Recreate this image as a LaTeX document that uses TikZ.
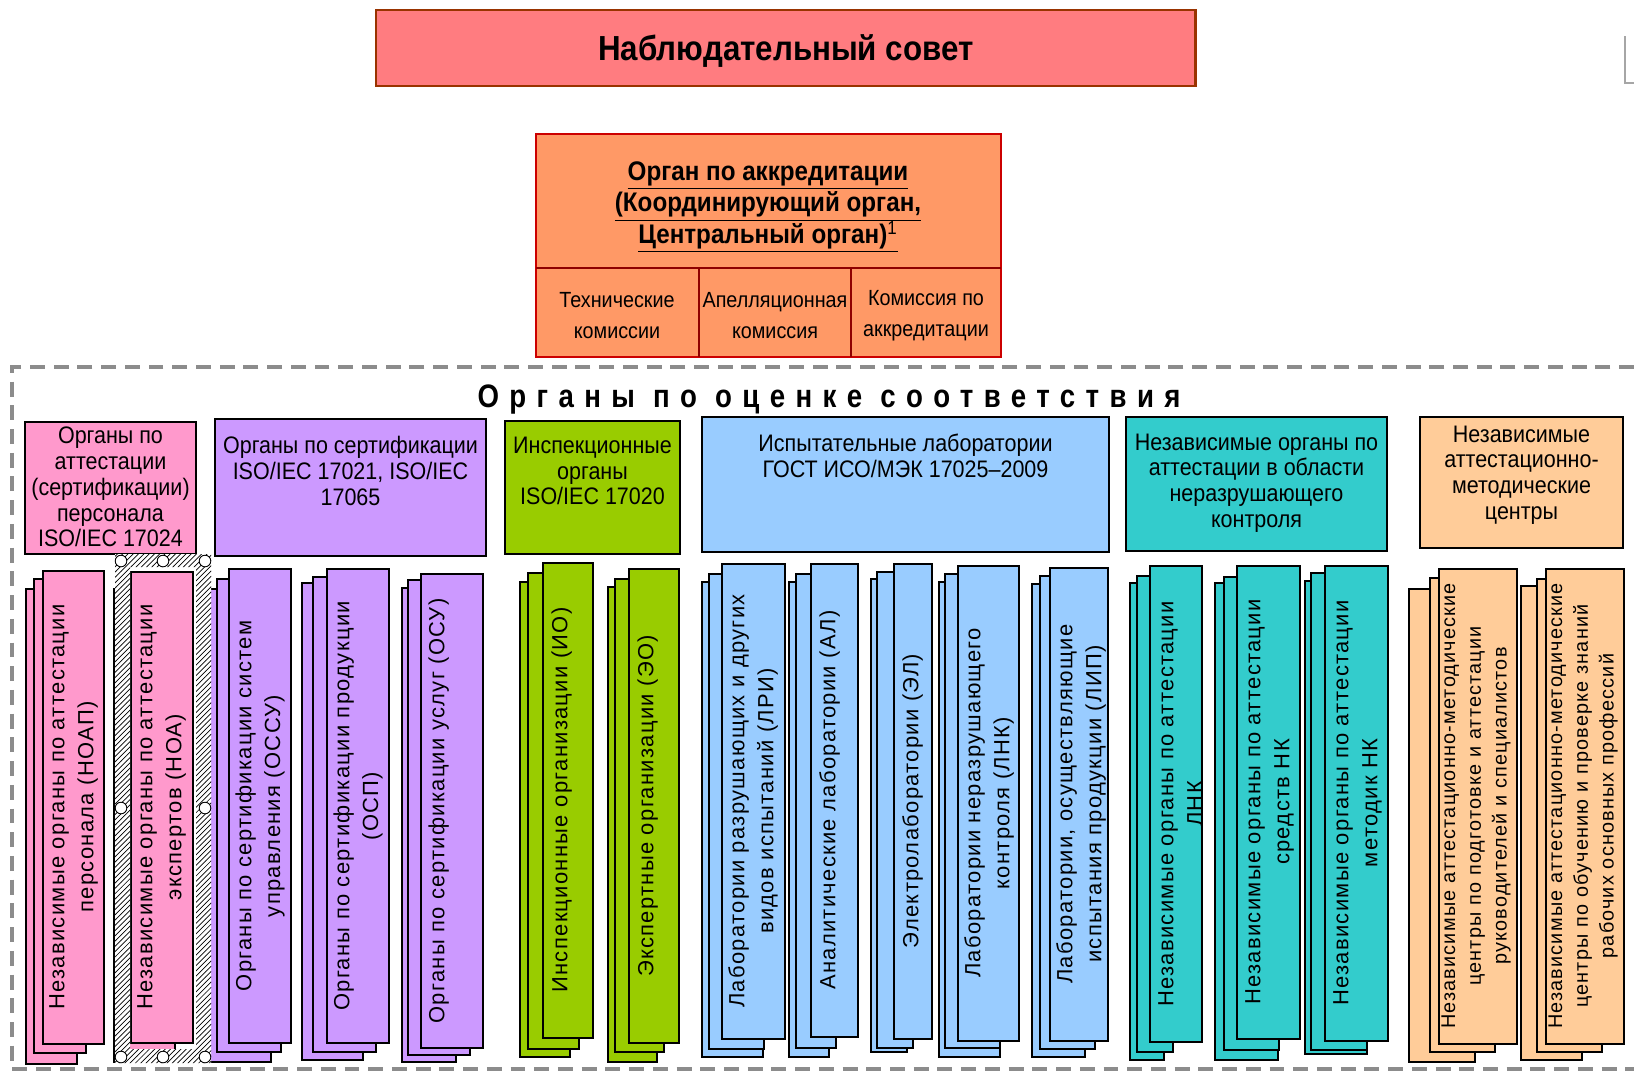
\documentclass[tikz,border=0pt]{standalone}
\usepackage{fontspec}
\setmainfont{Liberation Sans}
\newfontfamily\narrowfont{Liberation Sans}[FakeStretch=0.9]
\newfontfamily\spacedfont{Liberation Sans}[LetterSpace=6]
\newfontfamily\widefont{Liberation Sans}[FakeStretch=0.85,LetterSpace=32]
\usetikzlibrary{patterns}

\definecolor{csovet}{HTML}{FF7C80}
\definecolor{csovetline}{HTML}{993300}
\definecolor{corgan}{HTML}{FF9966}
\definecolor{corganline}{HTML}{CC0000}
\definecolor{cpink}{HTML}{FF99CC}
\definecolor{cpurple}{HTML}{CC99FF}
\definecolor{cgreen}{HTML}{99CC00}
\definecolor{cblue}{HTML}{99CCFF}
\definecolor{cteal}{HTML}{33CCCC}
\definecolor{cpeach}{HTML}{FFCC99}
\definecolor{cframe}{HTML}{8C8C8C}

\tikzset{
  hdrbox/.style={draw=black, line width=1pt},
  stackbox/.style={draw=black, line width=0.85pt},
  hdrtext/.style={font=\narrowfont\fontsize{13.6}{14.7}\selectfont, align=center, inner sep=0pt},
  comtext/.style={font=\narrowfont\fontsize{12.5}{17.6}\selectfont, align=center, inner sep=0pt},
  rottext/.style={font=\spacedfont\fontsize{12.5}{16.4}\selectfont, align=center, inner sep=0pt, rotate=90, anchor=north},
  rotsmall/.style={rottext, font=\spacedfont\fontsize{11.3}{14.7}\selectfont},
}

\begin{document}
\begin{tikzpicture}[x=0.02cm, y=-0.02cm]
    \useasboundingbox (0,0) rectangle (1634,1072);

    % top
    \draw[fill=csovet, draw=csovetline, line width=1.7pt] (376,10) rectangle (1195,86);
    \node[font=\narrowfont\bfseries\fontsize{19.8}{23}\selectfont, anchor=base] (sovet) at (786,60) {Наблюдательный совет};
    \draw[gray!70, line width=0.8pt] (1625,36) -- (1625,83) -- (1634,83);

    % accreditation body
    \draw[fill=corgan, draw=corganline, line width=1.6pt] (536,134) rectangle (1001,357);
    \draw[corganline!70!black, line width=0.6pt] (536,268) -- (1001,268) (699,268) -- (699,357) (851,268) -- (851,357);
    \node[font=\narrowfont\bfseries\fontsize{15.3}{18.1}\selectfont, align=center, inner sep=0pt] (organ) at (768,207)
        {\underline{Орган по аккредитации}\\\underline{(Координирующий орган,}\\\underline{Центральный орган)\textsuperscript{\mdseries 1}}};
    \node[comtext] (tech) at (617,316) {Технические\\комиссии};
    \node[comtext] (appeal) at (775,316) {Апелляционная\\комиссия};
    \node[comtext] (accr) at (926,316) {Комиссия по\\аккредитации};

    % dashed frame
    \draw[cframe, line width=2.2pt, dash pattern=on 8.5pt off 5pt] (1634,367) -- (12,367) -- (12,1069) -- (1634,1069);
    \node[font=\widefont\bfseries\fontsize{18.5}{21}\selectfont, anchor=base] (ocenka) at (829,407) {Органы по оценке соответствия};

    % headers
    \draw[hdrbox, fill=cpink] (25,422) rectangle (196,554);
    \node[hdrtext] (hpers) at (110.5,487) {Органы по\\аттестации\\(сертификации)\\персонала\\ISO/IEC 17024};
    \draw[hdrbox, fill=cpurple] (215,419) rectangle (486,556);
    \node[hdrtext] (hcert) at (350.5,471) {Органы по сертификации\\ISO/IEC 17021, ISO/IEC\\17065};
    \draw[hdrbox, fill=cgreen] (505,421) rectangle (680,554);
    \node[hdrtext] (hinsp) at (592.5,471) {Инспекционные\\органы\\ISO/IEC 17020};
    \draw[hdrbox, fill=cblue] (702,417) rectangle (1109,552);
    \node[hdrtext] (hlab) at (905.5,456) {Испытательные лаборатории\\ГОСТ ИСО/МЭК 17025–2009};
    \draw[hdrbox, fill=cteal] (1126,417) rectangle (1387,551);
    \node[hdrtext] (hnk) at (1256.5,483) {Независимые органы по\\аттестации в области\\неразрушающего\\контроля};
    \draw[hdrbox, fill=cpeach] (1420,417) rectangle (1623,548);
    \node[hdrtext] (hamc) at (1521.5,475) {Независимые\\аттестационно-\\методические\\центры};

    % stacks: back, middle, front
    \foreach \c/\l/\t/\r/\b in {
        cpink/26/589/77/1064, cpink/34/579/86/1053, cpink/43/571/104/1044,
        cpink/114/589/166/1062, cpink/122/580/175/1052, cpink/131/572/193/1043,
        cpurple/209/589/271/1062, cpurple/217/579/281/1052, cpurple/229/569/291/1043,
        cpurple/302/583/363/1060, cpurple/313/577/376/1052, cpurple/327/569/389/1043,
        cpurple/402/588/456/1062, cpurple/408/580/470/1055, cpurple/421/574/483/1048,
        cgreen/520/582/570/1057, cgreen/528/573/579/1049, cgreen/543/563/593/1038,
        cgreen/608/587/657/1062, cgreen/615/579/664/1052, cgreen/629/569/679/1043,
        cblue/702/582/763/1057, cblue/709/574/764/1049, cblue/722/564/785/1039,
        cblue/789/582/829/1057, cblue/796/574/836/1048, cblue/811/564/858/1037,
        cblue/871/579/907/1052, cblue/877/572/913/1048, cblue/894/564/932/1039,
        cblue/939/582/1000/1057, cblue/945/574/1000/1048, cblue/958/566/1019/1041,
        cblue/1032/584/1085/1057, cblue/1040/576/1095/1049, cblue/1050/568/1108/1041,
        cteal/1130/583/1164/1060, cteal/1137/576/1173/1052, cteal/1150/566/1202/1042,
        cteal/1215/583/1278/1060, cteal/1224/577/1279/1050, cteal/1237/566/1300/1039,
        cteal/1305/581/1367/1054, cteal/1311/573/1367/1050, cteal/1325/566/1388/1041,
        cpeach/1409/589/1475/1062, cpeach/1430/578/1495/1052, cpeach/1439/569/1517/1044,
        cpeach/1521/586/1582/1060, cpeach/1537/579/1602/1052, cpeach/1546/569/1624/1044}
    \draw[stackbox, fill=\c] (\l,\t) rectangle (\r,\b);

    \node[rottext] (noap) at (49,807) {Независимые органы по аттестации\\персонала (НОАП)};
    \node[rottext] (noa) at (137,807) {Независимые органы по аттестации\\экспертов (НОА)};
    \node[rottext] (ossu) at (235,806) {Органы по сертификации систем\\управления (ОССУ)};
    \node[rottext] (osp) at (333,806) {Органы по сертификации продукции\\(ОСП)};
    \node[rottext] (osu) at (428,811) {Органы по сертификации услуг (ОСУ)};
    \node[rottext] (io) at (551,800) {Инспекционные организации (ИО)};
    \node[rottext] (eo) at (637,806) {Экспертные организации (ЭО)};
    \node[rottext] (lri) at (728,801) {Лаборатории разрушающих и других\\видов испытаний (ЛРИ)};
    \node[rottext] (al) at (819,800) {Аналитические лаборатории (АЛ)};
    \node[rottext] (el) at (902,801) {Электролаборатории (ЭЛ)};
    \node[rottext] (lnk) at (964,803) {Лаборатории неразрушающего\\контроля (ЛНК)};
    \node[rottext] (lip) at (1056,804) {Лаборатории, осуществляющие\\испытания продукции (ЛИП)};
    \node[rottext] (nolnk) at (1158,804) {Независимые органы по аттестации\\ЛНК};
    \node[rottext] (nosnk) at (1245,802) {Независимые органы по аттестации\\средств НК};
    \node[rottext] (nomnk) at (1333,803) {Независимые органы по аттестации\\методик НК};
    \node[rotsmall] (amc1) at (1441,806) {Независимые аттестационно-методические\\центры по подготовке и аттестации\\руководителей и специалистов};
    \node[rotsmall] (amc2) at (1548,806) {Независимые аттестационно-методические\\центры по обучению и проверке знаний\\рабочих основных профессий};

    % selection frame round noa
    \fill[white, even odd rule] (115,554) rectangle (211,1063) (130,567) rectangle (196,1049);
    \fill[pattern=north east lines, even odd rule] (115,554) rectangle (211,1063) (130,567) rectangle (196,1049);
    \foreach \x/\y in {121/561, 163/561, 205/561, 121/808, 205/808, 121/1057, 163/1057, 205/1057}
    \draw[fill=white, line width=0.5pt] (\x,\y) circle (3.3pt);
\end{tikzpicture}
\end{document}
